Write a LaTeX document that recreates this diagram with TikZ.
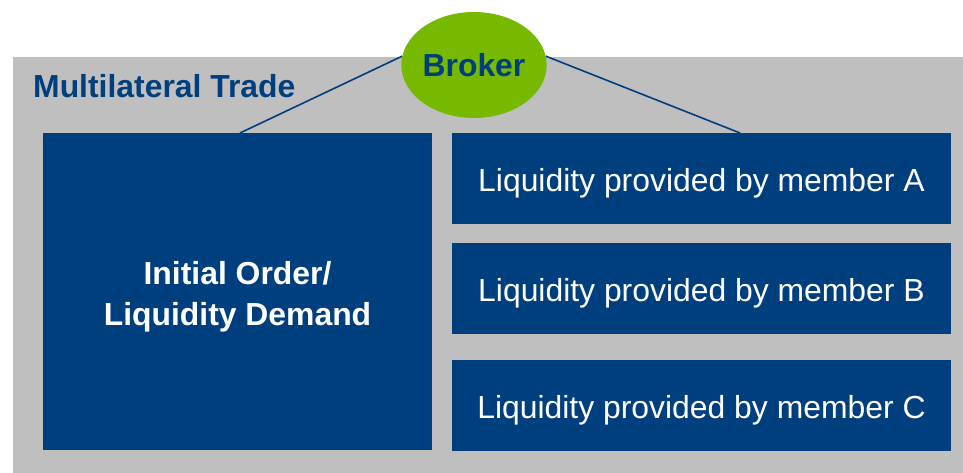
\documentclass[tikz,border=0pt]{standalone}
\usepackage{fontspec}
\setmainfont{Liberation Sans}
\usetikzlibrary{shapes.geometric}
\definecolor{dblue}{RGB}{0,63,125}
\definecolor{bgrey}{RGB}{191,191,191}
\definecolor{bgreen}{RGB}{119,184,0}
\begin{document}
\begin{tikzpicture}[x=1bp,y=-1bp,
  bluebox/.style={fill=dblue,draw=none,inner sep=0pt},
  boxtext/.style={text=white,align=center,inner sep=0pt,yshift=-5bp,
    font=\fontsize{32}{41}\selectfont},
  conn/.style={draw=dblue,line width=1.6bp}]
\useasboundingbox (0,0) rectangle (963,473);
\node[fill=bgrey,draw=none,inner sep=0pt,minimum width=950bp,minimum height=416bp,anchor=north west] (bg) at (13,57) {};
\node[anchor=base west,text=dblue,inner sep=0pt,font=\fontsize{32}{38}\selectfont\bfseries] (title) at (33,98) {Multilateral Trade};
\node[bluebox,minimum width=389bp,minimum height=317bp] (L) at (237.5,291.5) {};
\node[boxtext,font=\fontsize{32}{41}\selectfont\bfseries] (Lt) at (L.center) {Initial Order/\\Liquidity Demand};
\node[bluebox,minimum width=499bp,minimum height=91bp] (A) at (701.5,178.5) {};
\node[boxtext] (At) at (A.center) {Liquidity provided by member A};
\node[bluebox,minimum width=499bp,minimum height=91bp] (B) at (701.5,288.5) {};
\node[boxtext] (Bt) at (B.center) {Liquidity provided by member B};
\node[bluebox,minimum width=499bp,minimum height=91bp] (C) at (701.5,405.5) {};
\node[boxtext] (Ct) at (C.center) {Liquidity provided by member C};
\node[ellipse,fill=bgreen,draw=none,inner sep=0pt,minimum width=136bp,minimum height=106bp,text=dblue,font=\fontsize{32}{38}\selectfont\bfseries] (bk) at (474,65) {\raisebox{-2bp}{Broker}};
\coordinate (lt) at (240,133);
\coordinate (rt) at (740,133);
\draw[conn] (bk.173) -- (lt);
\draw[conn] (bk.7) -- (rt);
\end{tikzpicture}
\end{document}
